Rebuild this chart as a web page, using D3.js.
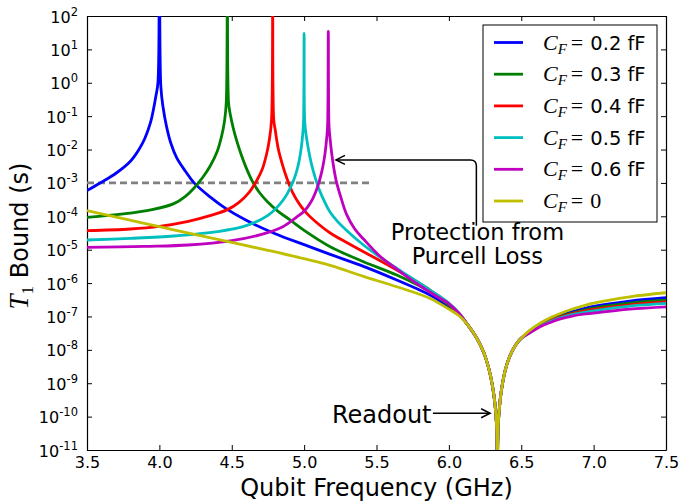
<!DOCTYPE html>
<html>
<head>
<meta charset="utf-8">
<script src="https://cdn.jsdelivr.net/npm/d3@7"></script>
<style>
  body { margin: 0; background: #fff; }
  svg { display: block; }
  text { font-family: "DejaVu Sans", sans-serif; fill: #000; }
</style>
</head>
<body>
<div id="chart"></div>
<script>
//////////
// DATA //
//////////

// each point: [qubit frequency (GHz), log10(T1 bound / s)]
var t1_02 = [[3.5,-3.23],[3.6,-2.98],[3.7,-2.71],[3.8,-2.35],[3.86,-1.99],[3.9,-1.66],[3.94,-1.17],[3.96,-0.78],[3.975,-0.42],[3.99,0.0],
  [4.0,3.5],[4.01,-0.1],[4.025,-0.72],[4.05,-1.32],[4.08,-1.82],[4.12,-2.25],[4.18,-2.65],[4.24,-3.0],[4.35,-3.42],[4.45,-3.74],
  [4.6,-4.12],[4.8,-4.52],[5.0,-4.85],[5.18,-5.14],[5.41,-5.5],[5.64,-5.91],[5.87,-6.36],[6.0,-6.72],[6.07,-6.95],
  [6.13,-7.25],[6.19,-7.63],[6.24,-8.07],[6.275,-8.55],[6.3,-9.05],[6.318,-9.6],[6.33,-10.3],[6.335,-11.5],[6.34,-10.3],[6.352,-9.6],
  [6.365,-9.15],[6.39,-8.6],[6.42,-8.2],[6.46,-7.86],[6.5,-7.65],
  [6.56,-7.44],[6.63,-7.24],[6.7,-7.09],[6.77,-6.97],[6.86,-6.85],[7.0,-6.70],[7.25,-6.54],[7.5,-6.44]];

var t1_03 = [[3.5,-4.03],[3.75,-3.93],[3.95,-3.8],[4.1,-3.62],[4.18,-3.4],[4.24,-3.15],[4.3,-2.83],[4.35,-2.5],[4.4,-2.05],[4.43,-1.6],
  [4.45,-1.15],[4.462,-0.6],[4.47,3.5],[4.478,-0.6],[4.49,-0.95],[4.51,-1.35],[4.535,-1.75],[4.565,-2.15],[4.6,-2.55],[4.64,-2.93],
  [4.69,-3.28],[4.75,-3.58],[4.82,-3.85],[4.9,-4.1],[5.0,-4.42],[5.18,-4.91],[5.41,-5.36],[5.64,-5.76],[5.87,-6.26],
  [6.0,-6.66],[6.07,-6.94],
  [6.13,-7.25],[6.19,-7.63],[6.24,-8.07],[6.275,-8.55],[6.3,-9.05],[6.318,-9.6],[6.33,-10.3],[6.335,-11.5],[6.34,-10.3],[6.352,-9.6],
  [6.365,-9.15],[6.39,-8.6],[6.42,-8.2],[6.46,-7.86],[6.5,-7.65],
  [6.56,-7.46],[6.63,-7.26],[6.7,-7.12],[6.77,-7.00],[6.86,-6.89],[7.0,-6.75],[7.25,-6.60],[7.5,-6.51]];

var t1_04 = [[3.5,-4.43],[3.8,-4.38],[4.0,-4.3],[4.2,-4.15],[4.35,-3.98],[4.47,-3.8],[4.55,-3.58],[4.62,-3.28],[4.67,-2.95],[4.71,-2.6],
  [4.74,-2.15],[4.76,-1.7],[4.775,-1.1],[4.783,3.5],[4.79,-1.1],[4.8,-1.4],[4.82,-1.95],[4.85,-2.45],[4.88,-2.85],[4.92,-3.28],
  [4.97,-3.65],[5.02,-3.92],[5.09,-4.2],[5.18,-4.5],[5.3,-4.8],[5.41,-5.06],[5.64,-5.61],[5.87,-6.21],[6.0,-6.62],[6.07,-6.92],
  [6.13,-7.25],[6.19,-7.63],[6.24,-8.07],[6.275,-8.55],[6.3,-9.05],[6.318,-9.6],[6.33,-10.3],[6.335,-11.5],[6.34,-10.3],[6.352,-9.6],
  [6.365,-9.15],[6.39,-8.6],[6.42,-8.2],[6.46,-7.86],[6.5,-7.65],
  [6.56,-7.47],[6.63,-7.27],[6.7,-7.13],[6.77,-7.02],[6.86,-6.91],[7.0,-6.79],[7.25,-6.65],[7.5,-6.56]];

var t1_05 = [[3.5,-4.71],[3.8,-4.66],[4.1,-4.59],[4.4,-4.46],[4.6,-4.28],[4.75,-3.97],[4.83,-3.65],[4.88,-3.35],[4.92,-3.0],[4.945,-2.7],
  [4.965,-2.35],[4.98,-1.95],[4.99,-1.55],[4.996,-1.15],[5.0,1.48],[5.004,-1.15],[5.015,-1.6],[5.03,-2.0],[5.05,-2.42],[5.075,-2.82],
  [5.1,-3.15],[5.14,-3.55],[5.18,-3.88],[5.23,-4.15],[5.29,-4.41],[5.41,-4.86],[5.52,-5.21],[5.64,-5.56],[5.87,-6.21],[6.0,-6.6],[6.07,-6.9],
  [6.13,-7.25],[6.19,-7.63],[6.24,-8.07],[6.275,-8.55],[6.3,-9.05],[6.318,-9.6],[6.33,-10.3],[6.335,-11.5],[6.34,-10.3],[6.352,-9.6],
  [6.365,-9.15],[6.39,-8.6],[6.42,-8.2],[6.46,-7.86],[6.5,-7.65],
  [6.56,-7.48],[6.63,-7.29],[6.7,-7.15],[6.77,-7.04],[6.86,-6.94],[7.0,-6.83],[7.25,-6.69],[7.5,-6.61]];

var t1_06 = [[3.5,-4.93],[3.9,-4.9],[4.2,-4.86],[4.5,-4.73],[4.7,-4.55],[4.85,-4.32],[4.95,-4.02],[5.0,-3.85],[5.05,-3.55],[5.09,-3.15],
  [5.12,-2.7],[5.14,-2.25],[5.155,-1.7],[5.162,-1.3],[5.167,1.54],[5.172,-1.3],[5.18,-1.7],[5.19,-2.1],[5.205,-2.55],[5.225,-3.0],
  [5.255,-3.45],[5.294,-3.95],[5.35,-4.38],[5.41,-4.68],[5.52,-5.18],[5.64,-5.58],[5.78,-6.02],[5.92,-6.41],[6.0,-6.62],[6.07,-6.9],
  [6.13,-7.25],[6.19,-7.63],[6.24,-8.07],[6.275,-8.55],[6.3,-9.05],[6.318,-9.6],[6.33,-10.3],[6.335,-11.5],[6.34,-10.3],[6.352,-9.6],
  [6.365,-9.15],[6.39,-8.6],[6.42,-8.2],[6.46,-7.86],[6.5,-7.65],
  [6.56,-7.49],[6.63,-7.31],[6.7,-7.18],[6.77,-7.07],[6.86,-6.98],[7.0,-6.90],[7.25,-6.78],[7.5,-6.71]];

var t1_0 = [[3.5,-3.83],[3.75,-4.07],[4.0,-4.31],[4.25,-4.55],[4.5,-4.78],[4.75,-5.02],[5.0,-5.27],[5.18,-5.47],[5.41,-5.8],[5.64,-6.11],
  [5.87,-6.46],[6.0,-6.78],[6.07,-6.98],
  [6.13,-7.25],[6.19,-7.63],[6.24,-8.07],[6.275,-8.55],[6.3,-9.05],[6.318,-9.6],[6.33,-10.3],[6.335,-11.5],[6.34,-10.3],[6.352,-9.6],
  [6.365,-9.15],[6.39,-8.6],[6.42,-8.2],[6.46,-7.86],[6.5,-7.65],
  [6.56,-7.41],[6.63,-7.2],[6.7,-7.04],[6.77,-6.91],[6.86,-6.77],[7.0,-6.6],[7.25,-6.41],[7.5,-6.29]];

var seriesData = [t1_02, t1_03, t1_04, t1_05, t1_06, t1_0];
var legendValues = ["0.2 fF", "0.3 fF", "0.4 fF", "0.5 fF", "0.6 fF", "0"];
var seriesColors = ["#0000ff", "#008000", "#ff0000", "#00bfbf", "#bf00bf", "#bfbf00"];

var xTicks = [3.5, 4.0, 4.5, 5.0, 5.5, 6.0, 6.5, 7.0, 7.5];
var yTickExponents = [2, 1, 0, -1, -2, -3, -4, -5, -6, -7, -8, -9, -10, -11];

// 1 ms reference level, drawn from 3.5 to 5.47 GHz
var refLevel = 1e-3, refStart = 3.5, refEnd = 5.47;

//////////////////////////////
// SVG AND GRAPH DIMENSIONS //
//////////////////////////////

var svgWidth = 680, svgHeight = 504;
var margin = { top: 16, right: 14, bottom: 54, left: 87 };
var width = svgWidth - margin.left - margin.right,
    height = svgHeight - margin.top - margin.bottom;

var svg = d3.select("#chart").append("svg")
  .attr("width", svgWidth)
  .attr("height", svgHeight);

var g = svg.append("g")
  .attr("transform", "translate(" + margin.left + "," + margin.top + ")");

g.append("clipPath").attr("id", "plotClip")
  .append("rect").attr("width", width).attr("height", height);

//////////
// AXES //
//////////

var x = d3.scaleLinear().domain([3.5, 7.5]).range([0, width]);
var y = d3.scaleLog().domain([1e-11, 1e2]).range([height, 0]);
var yTickValues = yTickExponents.map(function (e) { return Math.pow(10, e); });

// ticks point inward on all four sides
g.append("g")
  .attr("class", "x axis")
  .attr("transform", "translate(0," + height + ")")
  .call(d3.axisBottom(x).tickValues(xTicks).tickSizeInner(-5).tickSizeOuter(0).tickPadding(7)
    .tickFormat(d3.format(".1f")));

g.append("g")
  .call(d3.axisTop(x).tickValues(xTicks).tickSizeInner(-5).tickSizeOuter(0).tickFormat(""));

var yAxisG = g.append("g")
  .attr("class", "y axis")
  .call(d3.axisLeft(y).tickValues(yTickValues).tickSizeInner(-5).tickSizeOuter(0).tickFormat(""));

g.append("g")
  .attr("transform", "translate(" + width + ",0)")
  .call(d3.axisRight(y).tickValues(yTickValues).tickSizeInner(-5).tickSizeOuter(0).tickFormat(""));

g.selectAll(".domain").attr("stroke", "#000").attr("stroke-width", 1.2);
g.selectAll(".tick line").attr("stroke", "#000");
g.selectAll(".x.axis .tick text").attr("font-size", 16).attr("font-family", "DejaVu Sans");

// y labels as 10 with a superscript exponent
yAxisG.selectAll(".tick text").each(function (d, i) {
  var t = d3.select(this).text(null)
    .attr("x", -9).attr("dy", null).attr("y", 6)
    .attr("text-anchor", "end").attr("font-size", 16).attr("font-family", "DejaVu Sans");
  t.append("tspan").text("10");
  t.append("tspan").attr("dy", -7).attr("font-size", 11.5).text(String(yTickExponents[i]));
});

// axis titles
g.append("text")
  .attr("x", width / 2).attr("y", height + 46)
  .attr("text-anchor", "middle").attr("font-size", 24)
  .text("Qubit Frequency (GHz)");

var yTitle = g.append("text")
  .attr("transform", "translate(" + (-59) + "," + (height / 2 + 3) + ") rotate(-90)")
  .attr("text-anchor", "middle").attr("font-size", 24);
yTitle.append("tspan").attr("font-family", "Liberation Serif").attr("font-style", "italic").attr("font-size", 27).text("T");
yTitle.append("tspan").attr("font-family", "Liberation Serif").attr("font-size", 17).attr("dy", 5).text("1");
yTitle.append("tspan").attr("dy", -5).text("\u00a0Bound (s)");

///////////
// LINES //
///////////

var plot = g.append("g").attr("clip-path", "url(#plotClip)");

plot.append("line")
  .attr("x1", x(refStart)).attr("x2", x(refEnd))
  .attr("y1", y(refLevel)).attr("y2", y(refLevel))
  .attr("stroke", "#808080").attr("stroke-width", 2.8)
  .attr("stroke-dasharray", "7,4");

var line = d3.line()
  .x(function (d) { return x(d[0]); })
  .y(function (d) { return y(Math.pow(10, d[1])); })
  .curve(d3.curveCatmullRom.alpha(0.5));

plot.selectAll(".series")
  .data(seriesData)
  .enter().append("path")
  .attr("class", "series")
  .attr("d", line)
  .attr("fill", "none")
  .attr("stroke", function (d, i) { return seriesColors[i]; })
  .attr("stroke-width", 2.8)
  .attr("stroke-linejoin", "round");

/////////////////
// ANNOTATIONS //
/////////////////

function arrowHead(sel, tx, ty, dir) {
  sel.append("path")
    .attr("d", "M" + (tx + 9 * dir) + "," + (ty - 4.5) + "L" + tx + "," + ty + "L" + (tx + 9 * dir) + "," + (ty + 4.5))
    .attr("fill", "none").attr("stroke", "#000").attr("stroke-width", 1.5);
}

// Purcell protection arrow
var pTipX = x(5.22), pTipY = y(Math.pow(10, -2.31));
var pCornerX = x(6.19), pStartY = y(Math.pow(10, -4.28));
g.append("path")
  .attr("d", "M" + pCornerX + "," + pStartY + "L" + pCornerX + "," + (pTipY + 6) +
    "Q" + pCornerX + "," + pTipY + " " + (pCornerX - 6) + "," + pTipY + "L" + (pTipX + 1) + "," + pTipY)
  .attr("fill", "none").attr("stroke", "#000").attr("stroke-width", 1.5);
arrowHead(g, pTipX, pTipY, 1);

var protText = g.append("text")
  .attr("x", pCornerX + 1).attr("y", y(Math.pow(10, -4.71)))
  .attr("text-anchor", "middle").attr("font-size", 22.5);
protText.append("tspan").text("Protection from");
protText.append("tspan").attr("x", pCornerX + 1).attr("dy", 24).text("Purcell Loss");

// readout arrow
var rY = y(Math.pow(10, -9.9));
g.append("text")
  .attr("x", x(5.88)).attr("y", y(Math.pow(10, -10.18)))
  .attr("text-anchor", "end").attr("font-size", 24)
  .text("Readout");
g.append("line")
  .attr("x1", x(5.89)).attr("x2", x(6.283))
  .attr("y1", rY).attr("y2", rY)
  .attr("stroke", "#000").attr("stroke-width", 1.5);
arrowHead(g, x(6.285), rY, -1);

////////////
// LEGEND //
////////////

var legend = svg.append("g").attr("transform", "translate(483,25)");
legend.append("rect")
  .attr("width", 174).attr("height", 197)
  .attr("fill", "#fff").attr("stroke", "#000").attr("stroke-width", 1);

var rows = legend.selectAll(".row")
  .data(legendValues)
  .enter().append("g")
  .attr("class", "row")
  .attr("transform", function (d, i) { return "translate(0," + (17.5 + i * 31.7) + ")"; });

rows.append("line")
  .attr("x1", 11).attr("x2", 40)
  .attr("stroke", function (d, i) { return seriesColors[i]; })
  .attr("stroke-width", 2.8);

var lt = rows.append("text").attr("x", 60).attr("y", 7);
lt.append("tspan").attr("font-family", "Liberation Serif").attr("font-style", "italic").attr("font-size", 22).text("C");
lt.append("tspan").attr("font-family", "Liberation Serif").attr("font-style", "italic").attr("font-size", 15).attr("dy", 4).text("F");
lt.append("tspan").attr("font-family", "Liberation Serif").attr("font-size", 22).attr("dy", -4).attr("dx", 4).text("=");
lt.append("tspan")
  .attr("dx", 7)
  .attr("font-family", function (d) { return d === "0" ? "Liberation Serif" : "DejaVu Sans"; })
  .attr("font-size", function (d) { return d === "0" ? 22 : 19.5; })
  .text(function (d) { return d; });
</script>
</body>
</html>
